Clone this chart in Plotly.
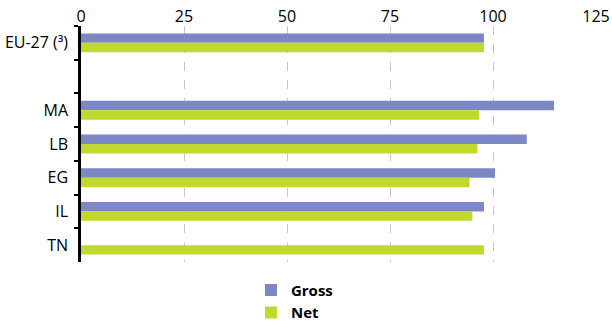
import plotly.graph_objects as go

# Categories (top to bottom); the blank entry leaves a gap after the EU-27 row
categories = ["EU-27 (³)", " ", "MA", "LB", "EG", "IL", "TN"]
gross = [97.8, None, 114.8, 108.2, 100.5, 97.8, None]
net = [97.8, None, 96.6, 96.2, 94.3, 95.0, 97.8]
x_ticks = [0, 25, 50, 75, 100, 125]

GROSS_COLOR = "#7b88c4"
NET_COLOR = "#c1d82f"
FONT = "Open Sans"

fig = go.Figure()
fig.add_trace(go.Bar(y=categories, x=gross, name="Gross", orientation="h",
                     marker=dict(color=GROSS_COLOR, line=dict(width=0))))
fig.add_trace(go.Bar(y=categories, x=net, name="Net", orientation="h",
                     marker=dict(color=NET_COLOR, line=dict(width=0))))

fig.update_layout(
    width=612, height=325,
    margin=dict(l=81, r=16, t=26, b=63, autoexpand=False),
    paper_bgcolor="white", plot_bgcolor="white",
    barmode="group", bargap=0.44, bargroupgap=0,
    font=dict(family=FONT, size=15, color="#000000"),
    showlegend=True,
    legend=dict(orientation="v", x=0.33, xanchor="left", y=-0.05, yanchor="top",
                font=dict(family=FONT, size=15, color="#000000", weight="bold"),
                itemwidth=30, tracegroupgap=0, bgcolor="rgba(0,0,0,0)"),
)

fig.update_xaxes(
    side="top", range=[0, 125], tickvals=x_ticks, ticktext=[str(v) for v in x_ticks],
    showgrid=True, gridcolor="#c8c8c8", griddash="dash", gridwidth=1,
    zeroline=False, showline=False, ticks="", automargin=False,
    tickfont=dict(family=FONT, size=16, color="#000000"),
)
fig.update_yaxes(
    type="category", categoryorder="array", categoryarray=categories,
    autorange="reversed", showline=True, linecolor="#000000", linewidth=2.5,
    ticks="outside", tickson="boundaries", ticklen=4, tickwidth=2, tickcolor="#000000",
    ticklabelstandoff=7, automargin=False,
    showgrid=False, zeroline=False,
    tickfont=dict(family=FONT, size=16, color="#000000"),
)

fig.write_html("out.html")
